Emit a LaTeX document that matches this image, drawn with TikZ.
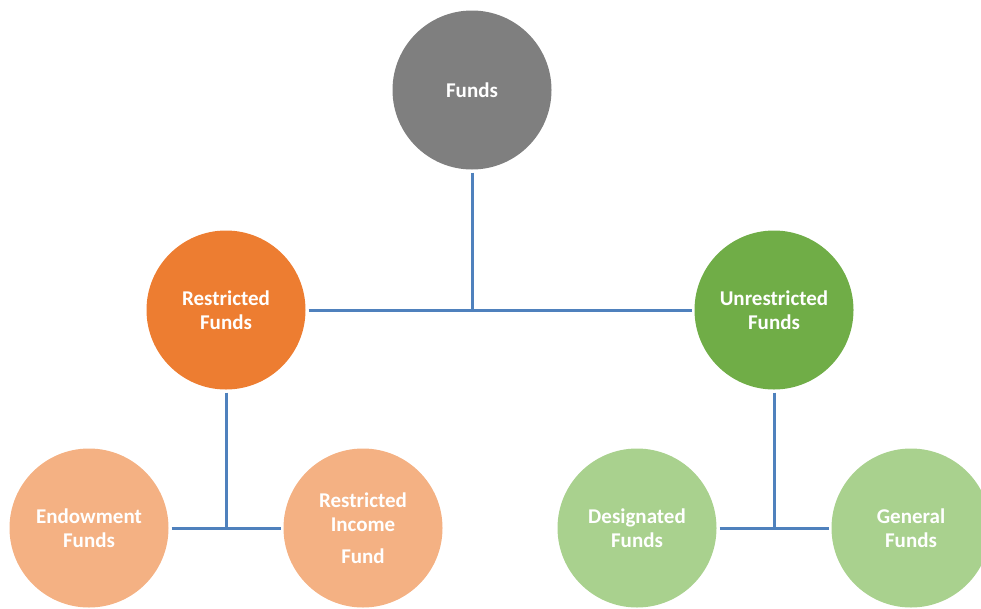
\documentclass[tikz,border=0pt]{standalone}
\usepackage{fontspec}
\setmainfont{Carlito}
\usetikzlibrary{positioning}
\definecolor{fundgray}{HTML}{7F7F7F}
\definecolor{restrorange}{HTML}{ED7D31}
\definecolor{unrestrgreen}{HTML}{70AD47}
\definecolor{lightorange}{HTML}{F4B183}
\definecolor{lightgreen}{HTML}{A9D18E}
\definecolor{linkblue}{HTML}{4F81BD}

\begin{document}
\begin{tikzpicture}[
    x=1pt, y=-1pt,
    fund/.style={circle, minimum size=159pt, inner sep=0pt, outer sep=3pt, align=center,
        text=white, font=\fontsize{21}{24}\selectfont\bfseries},
    link/.style={draw=linkblue, line width=3pt}
]
\useasboundingbox (0,0) rectangle (981,608);

% Top level
\node[fund, fill=fundgray] (funds) at (472,90) {Funds};

% Second level
\node[fund, fill=restrorange] (rf) at (226,310) {Restricted\\Funds};
\node[fund, fill=unrestrgreen] (uf) at (774,310) {Unrestricted\\Funds};

% Third level
\node[fund, fill=lightorange] (ef) at (89,528) {Endowment\\Funds};
\node[fund, fill=lightorange] (rif) at (363,528) {Restricted\\Income\\[8pt]Fund};
\node[fund, fill=lightgreen] (df) at (637,528) {Designated\\Funds};
\node[fund, fill=lightgreen] (gf) at (911,528) {General\\Funds};

% Junctions
\coordinate (jtop) at (funds |- rf);
\coordinate (jleft) at (rf |- ef);
\coordinate (jright) at (uf |- df);

% Connectors
\draw[link] (funds) -- (jtop);
\draw[link] (rf) -- (uf);
\draw[link] (rf) -- (jleft);
\draw[link] (ef) -- (rif);
\draw[link] (uf) -- (jright);
\draw[link] (df) -- (gf);

\end{tikzpicture}
\end{document}
